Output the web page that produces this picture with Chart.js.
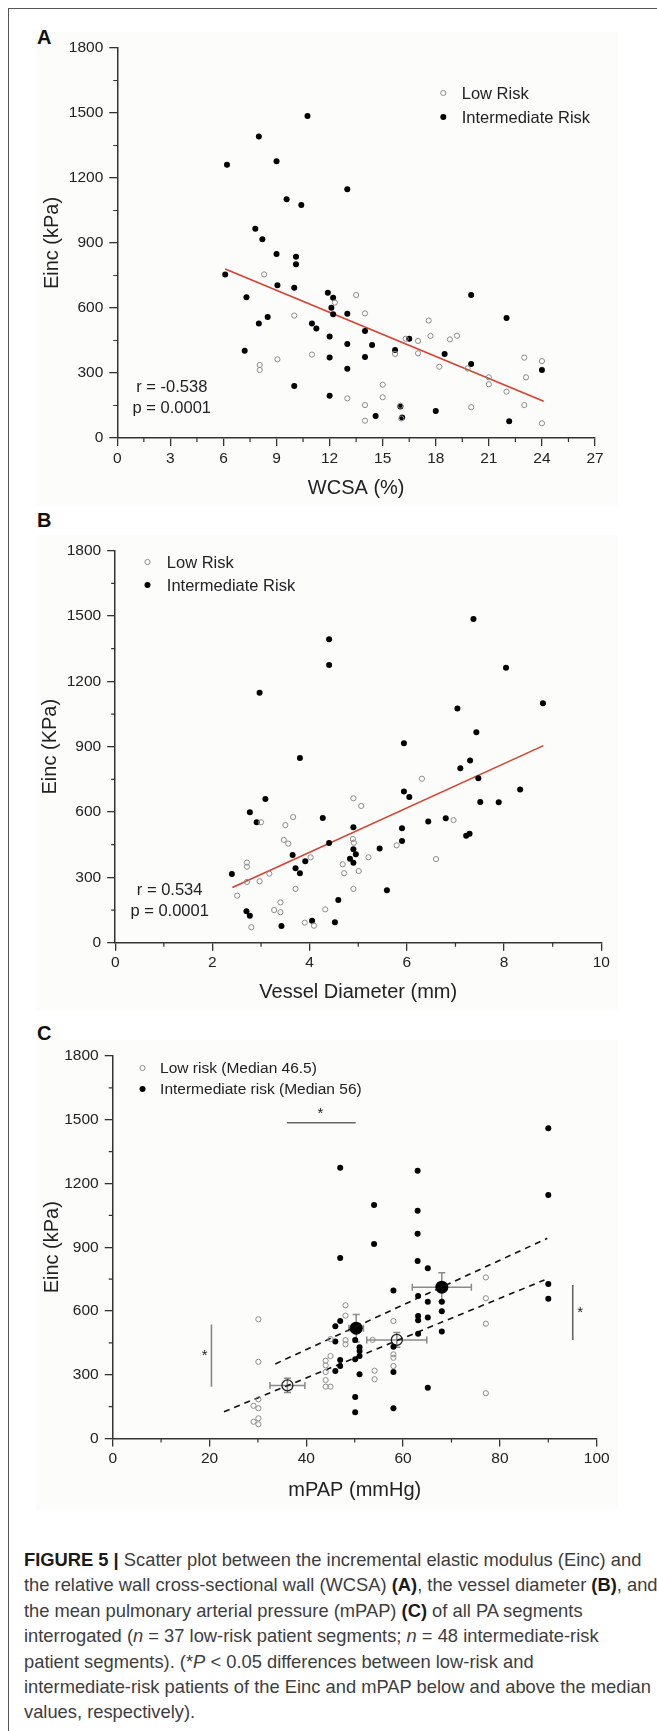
<!DOCTYPE html>
<html>
<head>
<meta charset="utf-8">
<script src="https://cdn.jsdelivr.net/npm/chart.js@4.4.1/dist/chart.umd.min.js"></script>
<style>
  html, body { margin: 0; padding: 0; overflow: hidden; background: #fff; }
  body { width: 657px; height: 1731px; position: relative; font-family: 'Liberation Sans', Arial, sans-serif; }
  #frame { position: absolute; left: 8px; top: 8px; width: 700px; height: 1800px;
           border-left: 1.5px solid #555; border-top: 1.5px solid #555; }
  .bg { position: absolute; left: 36px; width: 582px; background: #fcfcfb; }
  canvas { position: absolute; left: 0; }
  .tag { position: absolute; left: 37px; font: bold 20px 'Liberation Sans', Arial, sans-serif;
         line-height: 20px; color: #111; }
  #cap { position: absolute; left: 24px; top: 1547px; font-size: 17.5px; line-height: 25.4px;
         color: #3d3d3d; white-space: nowrap; }
  #cap b { color: #1a1a1a; }
</style>
</head>
<body>
<div id="frame"></div>
<div class="bg" style="top:32px;height:474px"></div>
<div class="bg" style="top:535px;height:475px"></div>
<div class="bg" style="top:1040px;height:470px"></div>
<div class="tag" style="top:27px">A</div>
<div class="tag" style="top:510px">B</div>
<div class="tag" style="top:1023px">C</div>
<canvas id="chartA" width="657" height="510" style="top:0"></canvas>
<canvas id="chartB" width="657" height="510" style="top:510px"></canvas>
<canvas id="chartC" width="657" height="500" style="top:1020px"></canvas>
<div id="cap">
<span><b>FIGURE 5 |</b> Scatter plot between the incremental elastic modulus (Einc) and</span><br>
<span>the relative wall cross-sectional wall (WCSA) <b>(A)</b>, the vessel diameter <b>(B)</b>, and</span><br>
<span>the mean pulmonary arterial pressure (mPAP) <b>(C)</b> of all PA segments</span><br>
<span>interrogated (<i>n</i> = 37 low-risk patient segments; <i>n</i> = 48 intermediate-risk</span><br>
<span>patient segments). (*<i>P</i> &lt; 0.05 differences between low-risk and</span><br>
<span id="longest">intermediate-risk patients of the Einc and mPAP below and above the median</span><br>
<span>values, respectively).</span>
</div>
<script>
// Panel A: Einc vs WCSA (%)
const lowA_x = [8.3, 13.5, 14.0, 12.3, 10.0, 17.6, 17.7, 19.2, 18.8, 16.3, 17.0, 17.0, 15.7, 11.0, 9.05, 8.05, 8.05, 18.2, 19.8, 23.0, 24.0, 23.1, 21.0, 21.0, 15.0, 15.0, 13.0, 14.0, 23.0, 22.0, 20.0, 16.0, 14.0, 16.05, 24.0];
const lowA_y = [755, 660, 575, 625, 565, 542, 471, 472, 455, 458, 448, 391, 388, 385, 363, 337, 314, 329, 321, 371, 355, 280, 280, 248, 246, 188, 183, 152, 152, 214, 142, 149, 80, 90, 68];
const intA_x = [10.75, 8.0, 6.2, 9.0, 13.0, 9.57, 10.4, 7.8, 8.2, 9.0, 10.1, 10.1, 6.1, 9.05, 10.0, 11.9, 12.2, 20.0, 7.3, 12.1, 12.2, 13.0, 8.0, 8.5, 22.0, 11.0, 11.25, 14.0, 12.0, 16.5, 13.0, 14.4, 15.7, 7.2, 18.5, 12.0, 14.0, 20.0, 13.0, 24.0, 10.0, 12.0, 16.0, 18.0, 14.6, 16.1, 22.15];
const intA_y = [1486, 1392, 1261, 1277, 1148, 1102, 1075, 966, 917, 849, 837, 802, 755, 705, 694, 670, 647, 660, 650, 601, 571, 574, 529, 558, 554, 528, 505, 494, 468, 458, 434, 429, 406, 403, 388, 371, 374, 341, 320, 314, 240, 195, 145, 125, 102, 95, 77];
const fitA_x = [6.1, 24.1];
const fitA_y = [780, 170];

// Panel B: Einc vs vessel diameter (mm)
const lowB_x = [6.31, 4.90, 5.06, 3.0, 3.66, 3.50, 6.96, 3.47, 3.56, 4.89, 4.91, 5.79, 4.02, 5.21, 4.68, 2.71, 2.71, 3.17, 4.71, 5.01, 6.60, 2.71, 2.97, 2.51, 3.71, 4.90, 3.40, 3.27, 3.40, 4.32, 2.80, 3.90, 4.09];
const lowB_y = [753, 663, 628, 553, 577, 540, 563, 472, 455, 476, 459, 447, 392, 392, 360, 368, 349, 317, 319, 329, 384, 279, 282, 216, 247, 247, 185, 150, 140, 153, 71, 92, 78];
const intB_x = [7.37, 4.40, 4.40, 8.04, 2.97, 8.80, 7.04, 7.43, 5.94, 3.80, 7.30, 7.10, 7.47, 8.33, 5.94, 6.05, 3.09, 7.51, 7.89, 2.77, 2.91, 4.27, 6.80, 6.44, 4.90, 5.90, 7.22, 7.29, 5.90, 4.40, 5.44, 4.90, 4.95, 3.65, 4.83, 4.90, 3.91, 3.71, 3.80, 2.40, 5.59, 4.59, 2.70, 2.77, 4.05, 4.52, 3.42];
const intB_y = [1486, 1393, 1275, 1263, 1148, 1099, 1075, 966, 916, 848, 837, 801, 755, 704, 694, 669, 660, 646, 645, 599, 553, 573, 571, 557, 530, 525, 491, 500, 467, 458, 432, 429, 406, 403, 386, 367, 374, 342, 319, 315, 241, 196, 144, 124, 101, 94, 77];
const fitB_x = [2.41, 8.81];
const fitB_y = [253, 905];

// Panel C: Einc vs mPAP (mmHg)
const lowC_x = [77.1, 77.1, 77.1, 77.1, 48.1, 48.1, 30.1, 58.0, 48.1, 48.1, 45.0, 53.7, 58.0, 58.0, 44.0, 45.0, 44.0, 30.1, 54.1, 54.1, 44.0, 44.0, 44.0, 45.0, 58.0, 30.1, 29.1, 30.1, 29.1, 30.1, 30.1];
const lowC_y = [758, 660, 540, 213, 627, 578, 561, 553, 463, 443, 468, 464, 396, 380, 366, 388, 344, 361, 319, 279, 313, 275, 244, 244, 341, 184, 154, 142, 79, 95, 67];
const intC_x = [90, 47, 63, 90, 54, 63, 63, 54, 47, 63, 65.1, 90, 58, 63.1, 65.1, 68, 90, 68, 63.1, 63.1, 65.1, 47, 46, 68, 63.1, 50.1, 46, 51, 58, 51, 51, 47, 50.1, 47, 46, 58, 51, 65.1, 50.1, 58, 50.1];
const intC_y = [1460, 1274, 1260, 1146, 1099, 1072, 964, 915, 849, 835, 801, 727, 696, 671, 644, 644, 658, 599, 576, 556, 570, 553, 528, 503, 493, 464, 457, 429, 432, 412, 388, 369, 373, 341, 318, 313, 302, 239, 195, 142, 123];
const meanLow_x = [36.1, 58.7];
const meanLow_y = [250, 464];
const errLow_x = [3.6, 6.2];
const errLow_y = [33, 35];
const meanInt_x = [50.3, 68.0];
const meanInt_y = [519, 712];
const errInt_x = [1.5, 6.1];
const errInt_y = [65, 68];
const fitCLow_x = [23, 89.2];
const fitCLow_y = [126, 746];
const fitCInt_x = [33.6, 89.8];
const fitCInt_y = [351, 942];
const sigTop_x = [36, 50.2];
const sigTop_y = [1486, 1486];
const sigLeft_x = [20.4, 20.4];
const sigLeft_y = [537, 244];
const sigRight_x = [95.05, 95.05];
const sigRight_y = [722, 464];

const yTicks = [0, 1800, 300];
const FONT = "'Liberation Sans', Arial, sans-serif";
const INK = '#222';
const AXIS = '#333';

Chart.defaults.font.family = FONT;
Chart.defaults.color = INK;

const pts = (xs, ys) => xs.map((x, i) => ({ x, y: ys[i] }));

function lowSet(label, xs, ys) {
  return { label, data: pts(xs, ys), pointRadius: 2.6, pointBorderWidth: 1,
           borderColor: '#8c8c8c', backgroundColor: 'rgba(255,255,255,0)' };
}
function intSet(label, xs, ys) {
  return { label, data: pts(xs, ys), pointRadius: 3, pointBorderWidth: 0,
           borderColor: '#000', backgroundColor: '#000' };
}
function lineSet(xs, ys, color, dash) {
  return { data: pts(xs, ys), showLine: true, pointRadius: 0, borderColor: color,
           borderWidth: 1.6, borderDash: dash || [], fill: false };
}

const minorTicks = {
  id: 'minorTicks',
  afterDraw(chart, args, opts) {
    const ctx = chart.ctx;
    ctx.save();
    ctx.strokeStyle = AXIS;
    ctx.lineWidth = 1.2;
    ctx.beginPath();
    for (const id of ['x', 'y']) {
      const s = chart.scales[id];
      const step = opts[id];
      for (let v = s.min + step; v < s.max; v += 2 * step) {
        const p = s.getPixelForValue(v);
        if (id === 'x') { ctx.moveTo(p, s.top); ctx.lineTo(p, s.top + 4); }
        else { ctx.moveTo(s.right, p); ctx.lineTo(s.right - 4, p); }
      }
    }
    ctx.stroke();
    ctx.restore();
  }
};

const keyBox = {
  id: 'keyBox',
  afterDraw(chart, args, opts) {
    const { ctx, chartArea } = chart;
    ctx.save();
    ctx.font = opts.size + 'px ' + FONT;
    ctx.textBaseline = 'middle';
    ctx.textAlign = 'left';
    [0, 1].forEach(i => {
      const ds = chart.data.datasets[i];
      const mx = chartArea.left + opts.dx;
      const my = chartArea.top + opts.dy + i * opts.gap;
      ctx.beginPath();
      ctx.arc(mx, my, ds.pointRadius, 0, Math.PI * 2);
      if (i === 0) { ctx.strokeStyle = ds.borderColor; ctx.lineWidth = 1; ctx.stroke(); }
      else { ctx.fillStyle = ds.backgroundColor; ctx.fill(); }
      ctx.fillStyle = INK;
      ctx.fillText(ds.label, mx + opts.tx, my + 1);
    });
    ctx.restore();
  }
};

const notes = {
  id: 'notes',
  afterDatasetsDraw(chart, args, opts) {
    const { ctx, scales } = chart;
    ctx.save();
    ctx.textAlign = 'center';
    ctx.textBaseline = 'middle';
    ctx.fillStyle = INK;
    (opts.items || []).forEach(n => {
      ctx.font = (n.size || 16.5) + 'px ' + FONT;
      ctx.fillText(n.text, scales.x.getPixelForValue(n.x), scales.y.getPixelForValue(n.y));
    });
    ctx.restore();
  }
};

const errorBars = {
  id: 'errorBars',
  beforeDatasetsDraw(chart, args, opts) {
    const { ctx, scales } = chart;
    if (!opts.groups) return;
    ctx.save();
    ctx.strokeStyle = '#8a8a8a';
    ctx.lineWidth = 1.5;
    const cap = 3.5;
    opts.groups.forEach(g => {
      g.x.forEach((xv, i) => {
        const cx = scales.x.getPixelForValue(xv);
        const cy = scales.y.getPixelForValue(g.y[i]);
        const x0 = scales.x.getPixelForValue(xv - g.ex[i]);
        const x1 = scales.x.getPixelForValue(xv + g.ex[i]);
        const y0 = scales.y.getPixelForValue(g.y[i] - g.ey[i]);
        const y1 = scales.y.getPixelForValue(g.y[i] + g.ey[i]);
        ctx.beginPath();
        ctx.moveTo(x0, cy); ctx.lineTo(x1, cy);
        ctx.moveTo(x0, cy - cap); ctx.lineTo(x0, cy + cap);
        ctx.moveTo(x1, cy - cap); ctx.lineTo(x1, cy + cap);
        ctx.moveTo(cx, y0); ctx.lineTo(cx, y1);
        ctx.moveTo(cx - cap, y0); ctx.lineTo(cx + cap, y0);
        ctx.moveTo(cx - cap, y1); ctx.lineTo(cx + cap, y1);
        ctx.stroke();
      });
    });
    ctx.restore();
  }
};

function axis(min, max, step, title, size, fit, pad, horizontal) {
  return {
    type: 'linear', min, max,
    ticks: { stepSize: step, color: INK, font: { size: 15.5 }, padding: horizontal ? 3 : 6,
             maxRotation: 0, autoSkip: false, callback: v => String(v) },
    grid: { drawOnChartArea: false, drawTicks: true, tickLength: 8, color: AXIS, lineWidth: 1.3 },
    border: { display: true, color: AXIS, width: 1.5 },
    title: { display: true, text: title, color: INK, font: { size }, padding: pad },
    afterFit: s => { if (horizontal) s.height = fit; else s.width = fit; }
  };
}

function makeChart(id, cfg) {
  return new Chart(document.getElementById(id), {
    type: 'scatter',
    data: { datasets: cfg.datasets },
    options: {
      responsive: false, animation: false, devicePixelRatio: 1,
      layout: { padding: cfg.padding },
      scales: { x: cfg.x, y: cfg.y },
      plugins: {
        legend: { display: false }, tooltip: { enabled: false },
        minorTicks: cfg.minor, keyBox: cfg.key, notes: cfg.notes || {}, errorBars: cfg.err || {}
      }
    },
    plugins: [minorTicks, keyBox, notes, errorBars]
  });
}

makeChart('chartA', {
  datasets: [
    lowSet('Low Risk', lowA_x, lowA_y),
    intSet('Intermediate Risk', intA_x, intA_y),
    lineSet(fitA_x, fitA_y, '#d8412e')
  ],
  padding: { top: 48, right: 62, left: 0, bottom: 0 },
  x: axis(0, 27, 3, 'WCSA (%)', 20, 72, { top: 0, bottom: 10 }, true),
  y: axis(yTicks[0], yTicks[1], yTicks[2], 'Einc (kPa)', 20, 117.3, { top: 40, bottom: 0 }, false),
  minor: { x: 1.5, y: 150 },
  key: { dx: 326, dy: 45, gap: 24, tx: 18.4, size: 16.5 },
  notes: { items: [{ x: 3.08, y: 235, text: 'r = -0.538' }, { x: 3.08, y: 138, text: 'p = 0.0001' }] }
});

makeChart('chartB', {
  datasets: [
    lowSet('Low Risk', lowB_x, lowB_y),
    intSet('Intermediate Risk', intB_x, intB_y),
    lineSet(fitB_x, fitB_y, '#d8412e')
  ],
  padding: { top: 40.7, right: 55.7, left: 0, bottom: 0 },
  x: axis(0, 10, 2, 'Vessel Diameter (mm)', 20, 77.3, { top: 0, bottom: 16 }, true),
  y: axis(yTicks[0], yTicks[1], yTicks[2], 'Einc (KPa)', 20, 115.2, { top: 38, bottom: 0 }, false),
  minor: { x: 1, y: 150 },
  key: { dx: 32.3, dy: 11.3, gap: 23, tx: 19.3, size: 16.5 },
  notes: { items: [{ x: 1.12, y: 239, text: 'r = 0.534' }, { x: 1.12, y: 142, text: 'p = 0.0001' }] }
});

makeChart('chartC', {
  datasets: [
    lowSet('Low risk (Median 46.5)', lowC_x, lowC_y),
    intSet('Intermediate risk (Median 56)', intC_x, intC_y),
    lineSet(fitCLow_x, fitCLow_y, '#111', [6, 5]),
    lineSet(fitCInt_x, fitCInt_y, '#111', [6, 5]),
    lineSet(sigTop_x, sigTop_y, '#666'),
    lineSet(sigLeft_x, sigLeft_y, '#888'),
    lineSet(sigRight_x, sigRight_y, '#666'),
    { data: pts(meanLow_x, meanLow_y), pointRadius: 5.5, pointBorderWidth: 1.3,
      borderColor: '#222', backgroundColor: 'rgba(255,255,255,0)' },
    { data: pts(meanInt_x, meanInt_y), pointRadius: 6.5, pointBorderWidth: 0,
      borderColor: '#000', backgroundColor: '#000' }
  ],
  padding: { top: 36, right: 60.3, left: 0, bottom: 0 },
  x: axis(0, 100, 20, 'mPAP (mmHg)', 20, 81.5, { top: 0, bottom: 18 }, true),
  y: axis(yTicks[0], yTicks[1], yTicks[2], 'Einc (kPa)', 20, 112.7, { top: 40, bottom: 0 }, false),
  minor: { x: 10, y: 150 },
  key: { dx: 29.8, dy: 12, gap: 21, tx: 17.6, size: 15.5 },
  notes: { items: [{ x: 42.9, y: 1530, text: '*', size: 15 }, { x: 19.0, y: 388, text: '*', size: 15 },
                   { x: 96.6, y: 589, text: '*', size: 15 }] },
  err: { groups: [
    { x: meanLow_x, y: meanLow_y, ex: errLow_x, ey: errLow_y },
    { x: meanInt_x, y: meanInt_y, ex: errInt_x, ey: errInt_y }
  ] }
});

// fit caption width to the reference's longest line
const cap = document.getElementById('cap');
const longest = document.getElementById('longest');
const w = longest.getBoundingClientRect().width;
cap.style.fontSize = (17.5 * 627 / w).toFixed(2) + 'px';
</script>
</body>
</html>
